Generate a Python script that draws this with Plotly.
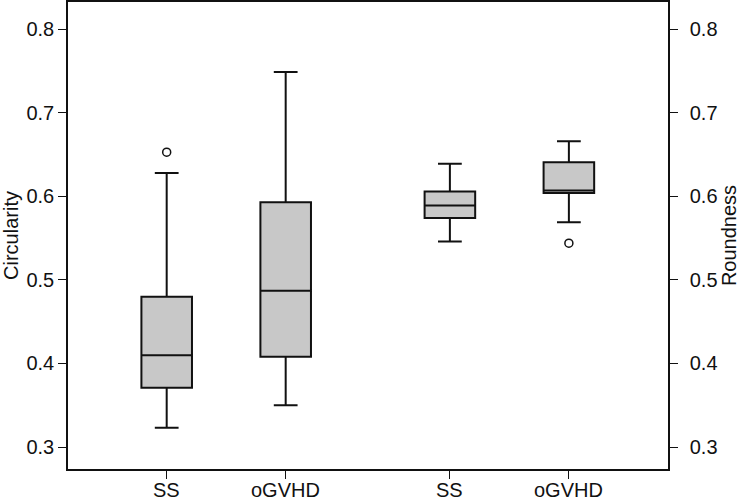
import plotly.graph_objects as go

# box statistics
groups = ["SS", "oGVHD", "SS", "oGVHD"]
measure = ["Circularity", "Circularity", "Roundness", "Roundness"]
lower_whisker = [0.323, 0.350, 0.546, 0.569]
q1 = [0.371, 0.408, 0.574, 0.604]
median = [0.410, 0.487, 0.589, 0.607]
q3 = [0.480, 0.593, 0.606, 0.641]
upper_whisker = [0.628, 0.749, 0.639, 0.666]
outliers = [[0.653], [], [], [0.544]]

# layout positions of the four boxes (two groups)
x_pos = [1, 2, 3.38, 4.38]

fig = go.Figure()

for i in range(len(groups)):
    axis = "y" if measure[i] == "Circularity" else "y2"
    fig.add_trace(go.Box(
        x=[x_pos[i]],
        q1=[q1[i]], median=[median[i]], q3=[q3[i]],
        lowerfence=[lower_whisker[i]], upperfence=[upper_whisker[i]],
        width=0.425, whiskerwidth=0.47,
        fillcolor="#c8c8c8",
        line=dict(color="#111111", width=2),
        boxpoints=False,
        yaxis=axis, showlegend=False, hoverinfo="skip",
    ))
    if outliers[i]:
        fig.add_trace(go.Scatter(
            x=[x_pos[i]] * len(outliers[i]), y=outliers[i], mode="markers",
            marker=dict(symbol="circle-open", size=8, color="#111111",
                        line=dict(width=1.5)),
            yaxis=axis, showlegend=False, hoverinfo="skip",
        ))

# group labels under the ticks (placed a bit tighter than plotly's default)
for xp, name in zip(x_pos, groups):
    fig.add_annotation(x=xp, xref="x", y=0, yref="paper", yanchor="top",
                       yshift=-9, borderpad=0, text=name, showarrow=False)

yrange = [0.2737, 0.8327]
ticks = [0.3, 0.4, 0.5, 0.6, 0.7, 0.8]
tick_font = dict(family="Liberation Sans, Arial, sans-serif", size=20, color="#111111")

fig.update_layout(
    width=740, height=501,
    margin=dict(l=68, r=72, t=2, b=32),
    paper_bgcolor="white", plot_bgcolor="white",
    font=tick_font,
    xaxis=dict(
        range=[0.1706, 5.213], tickvals=x_pos, showticklabels=False,
        showgrid=False, zeroline=False, showline=True, mirror=True,
        linecolor="#111111", linewidth=1.5,
        ticks="outside", ticklen=8, tickwidth=1, tickcolor="#111111",
        automargin=False,
    ),
    yaxis=dict(
        range=yrange, tickvals=ticks, tickformat=".1f",
        title=dict(text="Circularity", font=tick_font, standoff=10),
        showgrid=False, zeroline=False, showline=True,
        linecolor="#111111", linewidth=1.5,
        ticks="outside", ticklen=8, tickwidth=1, tickcolor="#111111",
        tickfont=tick_font, automargin=False,
    ),
    yaxis2=dict(
        range=yrange, tickvals=ticks, tickformat=".1f",
        overlaying="y", side="right",
        title=dict(text="Roundness", font=tick_font, standoff=2),
        showgrid=False, zeroline=False, showline=True,
        linecolor="#111111", linewidth=1.5,
        ticks="outside", ticklen=8, tickwidth=1, tickcolor="#111111",
        tickfont=tick_font, automargin=False, ticklabelstandoff=8,
    ),
)

# the page body has an 8px default margin; drop it so the figure sits at 0,0
fig.write_html("out.html", config={"displayModeBar": False},
               post_script="document.body.style.margin='0';document.body.style.overflow='hidden';")
